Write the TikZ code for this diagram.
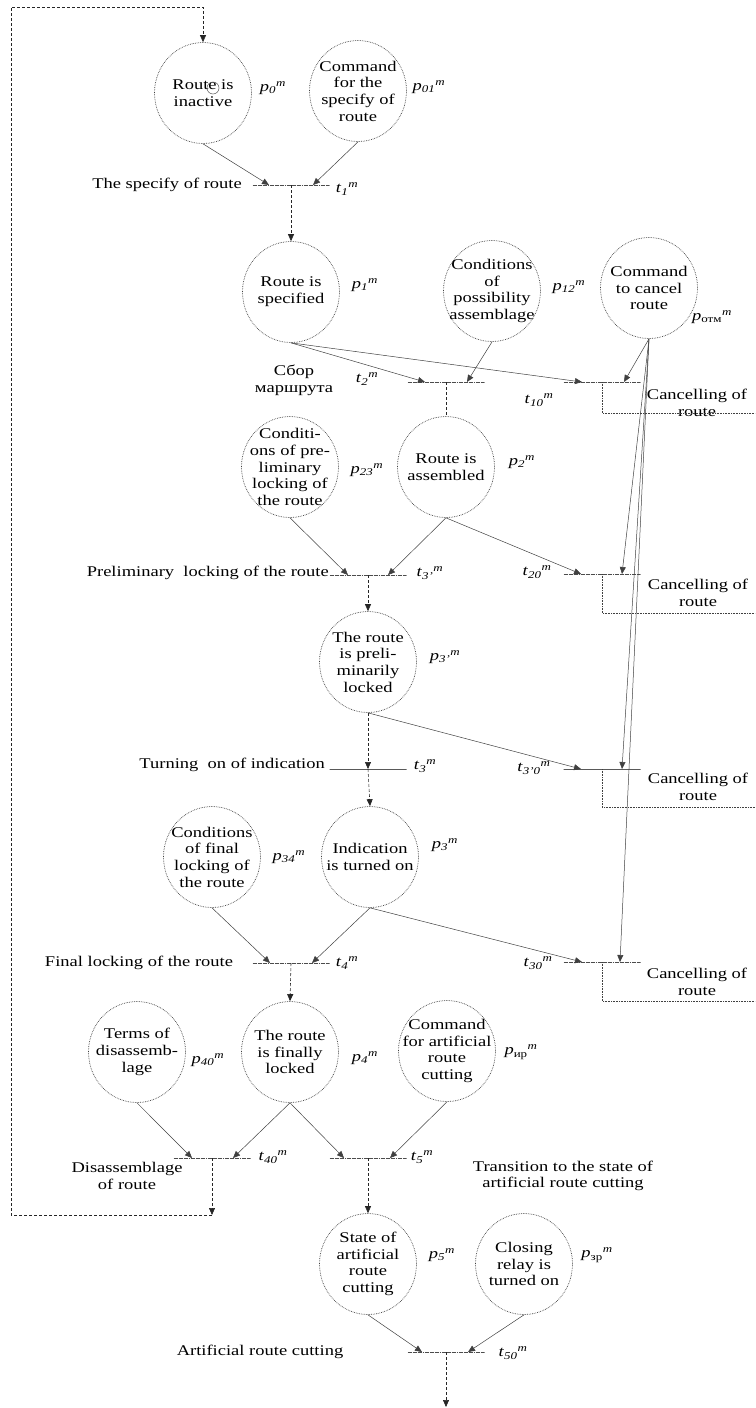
\documentclass[tikz,border=0pt]{standalone}
\usepackage{fontspec}
\setmainfont{Liberation Serif}[FakeStretch=1.25]
\usetikzlibrary{arrows.meta,shapes.geometric}

\newcommand{\plab}[1]{\textit{p}\textsubscript{\textit{#1}}\textsuperscript{\textit{m}}}
\newcommand{\tlab}[1]{\textit{t}\textsubscript{\textit{#1}}\textsuperscript{\textit{m}}}

\tikzset{
  txt/.style={font=\fontsize{14.8}{16.7}\selectfont, align=center, inner sep=0pt},
  place/.style={ellipse, draw=black!75, densely dotted, line width=0.7pt,
    minimum width=97pt, minimum height=101pt, inner sep=0pt},
  trans/.style={draw=black!70, densely dotted, line width=0.7pt,
    minimum width=77pt, minimum height=0pt, inner sep=0pt, outer sep=0pt},
  arc/.style={draw=black!75, line width=0.5pt, -{Triangle[length=7pt,width=6pt]}},
  flow/.style={draw=black!85, densely dashed, line width=0.6pt, -{Triangle[length=7pt,width=6pt]}},
  cancelbox/.style={draw=black!75, densely dotted, line width=0.6pt},
}

\begin{document}
\begin{tikzpicture}[x=1pt,y=-1pt]
    \useasboundingbox (0,0) rectangle (755,1408);

    % Places
    \node[place, label={[txt]center:Route is\\inactive}] (p0) at (203,93) {};
    \node[place, label={[txt]center:Command\\for the\\specify of\\route}] (p01) at (358,91) {};
    \node[place, label={[txt]center:Route is\\specified}] (p1) at (291,292) {};
    \node[place, label={[txt]center:Conditions\\of\\possibility\\assemblage}] (p12) at (492,291) {};
    \node[place, label={[txt]center:Command\\to cancel\\route}] (pot) at (649,288) {};
    \node[place, label={[txt]center:Conditi-\\ons of pre-\\liminary\\locking of\\the route}] (p23) at (290,467) {};
    \node[place, label={[txt]center:Route is\\assembled}] (p2) at (446,467) {};
    \node[place, label={[txt]center:The route\\is preli-\\minarily\\locked}] (p3a) at (368,662) {};
    \node[place, label={[txt]center:Conditions\\of final\\locking of\\the route}] (p34) at (212,857) {};
    \node[place, label={[txt]center:Indication\\is turned on}] (p3) at (370,857) {};
    \node[place, label={[txt]center:Terms of\\disassemb-\\lage}] (p40) at (137,1052) {};
    \node[place, label={[txt]center:The route\\is finally\\locked}] (p4) at (290,1052) {};
    \node[place, label={[txt]center:Command\\for artificial\\route\\cutting}] (pir) at (447,1051) {};
    \node[place, label={[txt]center:State of\\artificial\\route\\cutting}] (p5) at (368,1264) {};
    \node[place, label={[txt]center:Closing\\relay is\\turned on}] (pzr) at (524,1264) {};
    % token
    \draw[black!65, line width=0.5pt] ([xshift=10pt,yshift=5pt]p0.center) circle (6pt);

    % Place labels
    \node[txt] (lp0) at (273,88) {\plab{0}};
    \node[txt] (lp01) at (429,87) {\plab{01}};
    \node[txt] (lp1) at (365,285) {\plab{1}};
    \node[txt] (lp12) at (569,287) {\plab{12}};
    \node[txt] (lpot) at (712,317) {\plab{\upshape отм}};
    \node[txt] (lp23) at (367,470) {\plab{23}};
    \node[txt] (lp2) at (522,462) {\plab{2}};
    \node[txt] (lp3a) at (445,657) {\plab{3'}};
    \node[txt] (lp34) at (289,857) {\plab{34}};
    \node[txt] (lp3) at (445,845) {\plab{3}};
    \node[txt] (lp40) at (208,1060) {\plab{40}};
    \node[txt] (lp4) at (365,1058) {\plab{4}};
    \node[txt] (lpir) at (521,1052) {\plab{\upshape ир}};
    \node[txt] (lp5) at (442,1255) {\plab{5}};
    \node[txt] (lpzr) at (597,1255) {\plab{\upshape зр}};

    % Transitions
    \node[trans] (t1) at (291,185) {};
    \node[trans] (t2) at (446,382) {};
    \node[trans] (t10) at (602,382) {};
    \node[trans] (t3a) at (368,575) {};
    \node[trans] (t20) at (602,574) {};
    \node[trans, solid, draw=black] (t3) at (368,769) {};
    \node[trans, solid, draw=black] (t3a0) at (602,769) {};
    \node[trans] (t4) at (291,963) {};
    \node[trans] (t30) at (602,962) {};
    \node[trans] (t40) at (212,1158) {};
    \node[trans] (t5) at (368,1158) {};
    \node[trans] (t50) at (446,1352) {};

    % Transition labels
    \node[txt] (lt1) at (347,189) {\tlab{1}};
    \node[txt] (lt2) at (367,379) {\tlab{2}};
    \node[txt] (lt10) at (539,400) {\tlab{10}};
    \node[txt] (lt3a) at (430,573) {\tlab{3'}};
    \node[txt] (lt20) at (537,572) {\tlab{20}};
    \node[txt] (lt3) at (425,766) {\tlab{3}};
    \node[txt] (lt3a0) at (534,768) {\tlab{3'0}};
    \node[txt] (lt4) at (347,963) {\tlab{4}};
    \node[txt] (lt30) at (538,963) {\tlab{30}};
    \node[txt] (lt40) at (273,1157) {\tlab{40}};
    \node[txt] (lt5) at (422,1157) {\tlab{5}};
    \node[txt] (lt50) at (513,1353) {\tlab{50}};

    % Transition names
    \node[txt, anchor=east] (n1) at (242,185) {The specify of route};
    \node[txt] (n2) at (294,380) {Сбор\\маршрута};
    \node[txt, anchor=east] (n3a) at (329,573) {Preliminary\ \ locking of the route};
    \node[txt, anchor=east] (n3) at (325,765) {Turning\ \ on of indication};
    \node[txt] (n4) at (139,963) {Final locking of the route};
    \node[txt] (n40) at (127,1176) {Disassemblage\\of route};
    \node[txt] (n5) at (563,1176) {Transition to the state of\\artificial route cutting};
    \node[txt] (n50) at (260,1352) {Artificial route cutting};
    \node[txt] (c10) at (697,403) {Cancelling of\\route};
    \node[txt] (c20) at (698,593) {Cancelling of\\route};
    \node[txt] (c3a0) at (698,787) {Cancelling of\\route};
    \node[txt] (c30) at (697,982) {Cancelling of\\route};

    % Arcs into transitions
    \draw[arc] (p0.south) -- ([xshift=-22pt]t1.center);
    \draw[arc] (p01.south) -- ([xshift=22pt]t1.center);
    \draw[arc] (p1.south) -- ([xshift=-21pt]t2.center);
    \draw[arc] (p12.south) -- ([xshift=21pt]t2.center);
    \draw[arc] (p1.south) -- ([xshift=-20pt]t10.center);
    \draw[arc] (pot.south) -- ([xshift=22pt]t10.center);
    \draw[arc] (p23.south) -- ([xshift=-20pt]t3a.center);
    \draw[arc] (p2.south) -- ([xshift=20pt]t3a.center);
    \draw[arc] (p2.south) -- ([xshift=-21pt]t20.center);
    \draw[arc] (pot.south) -- ([xshift=20pt]t20.center);
    \draw[arc] (p3a.south) -- ([xshift=-21pt]t3a0.center);
    \draw[arc] (pot.south) -- ([xshift=20pt]t3a0.center);
    \draw[arc] (p34.south) -- ([xshift=-21pt]t4.center);
    \draw[arc] (p3.south) -- ([xshift=21pt]t4.center);
    \draw[arc] (p3.south) -- ([xshift=-20pt]t30.center);
    \draw[arc] (pot.south) -- ([xshift=18pt]t30.center);
    \draw[arc] (p40.south) -- ([xshift=-20pt]t40.center);
    \draw[arc] (p4.south) -- ([xshift=21pt]t40.center);
    \draw[arc] (p4.south) -- ([xshift=-24pt]t5.center);
    \draw[arc] (pir.south) -- ([xshift=22pt]t5.center);
    \draw[arc] (p5.south) -- ([xshift=-24pt]t50.center);
    \draw[arc] (pzr.south) -- ([xshift=22pt]t50.center);

    % Arcs out of transitions
    \draw[flow] (t1.center) -- (p1.north);
    \draw[flow, -] (t2.center) -- (p2.north);
    \draw[flow] (t3a.center) -- (p3a.north);
    \draw[flow] (p3a.south) -- (t3.center);
    \draw[flow] (t3.center) -- (p3.north);
    \draw[flow] (t4.center) -- (p4.north);
    \draw[flow] (t5.center) -- (p5.north);
    \coordinate (out50) at (446,1407);
    \draw[flow] (t50.center) -- (out50);

    % Cancelling boxes
    \coordinate (e10) at (755,413);
    \coordinate (e20) at (755,613);
    \coordinate (e3a0) at (755,807);
    \coordinate (e30) at (755,1001);
    \draw[cancelbox] (t10.center) |- (e10);
    \draw[cancelbox] (t20.center) |- (e20);
    \draw[cancelbox] (t3a0.center) |- (e3a0);
    \draw[cancelbox] (t30.center) |- (e30);

    % Return loop
    \coordinate (fb) at (212,1215);
    \coordinate (lb) at (11,1215);
    \coordinate (lt) at (11,7);
    \draw[flow] (t40.center) -- (fb);
    \draw[flow] (fb) -- (lb) -- (lt) -| (p0.north);
\end{tikzpicture}
\end{document}
